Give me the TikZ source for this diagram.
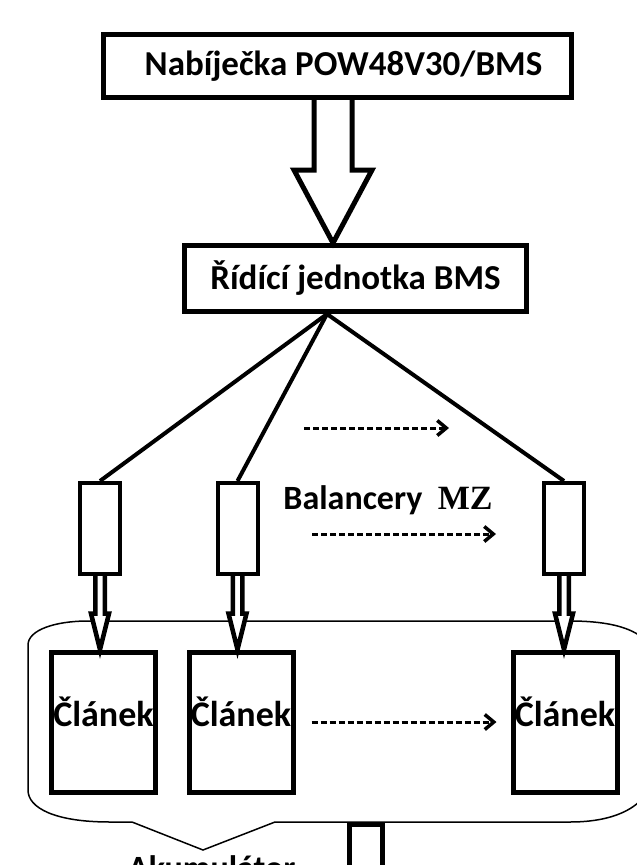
\documentclass[tikz,border=0pt]{standalone}
\usepackage{fontspec}
\setmainfont{Carlito}
\newfontfamily\mzfont{Liberation Serif}
\usetikzlibrary{calc,arrows.meta}

\begin{document}
\begin{tikzpicture}[x=1pt,y=-1pt,every text node part/.style={align=center}]
		\tikzstyle{blk}=[rectangle,draw,line width=5pt,inner sep=0pt,
                  font=\fontsize{35}{40}\selectfont\bfseries]
		\tikzstyle{bal}=[rectangle,draw,line width=4pt,minimum width=40pt,
                  minimum height=91pt,inner sep=0pt]
		\tikzstyle{cell}=[blk,minimum width=104pt,minimum height=140pt,
                  font=\fontsize{36}{40}\selectfont\bfseries,text height=19pt,text depth=10pt]
		\tikzstyle{txt}=[inner sep=0pt,font=\fontsize{34}{40}\selectfont\bfseries]
		\tikzstyle{wire}=[line width=4pt]
		\tikzstyle{hollow}=[draw,fill=white,line width=5pt,line join=miter]
		\tikzstyle{thin}=[draw,fill=white,line width=4.5pt,line join=miter]
		\tikzstyle{flow}=[line width=3pt,dash pattern=on 6pt off 3pt,
                  -{Straight Barb[length=9pt,width=15pt,line width=3.5pt]}]
		\tikzstyle{shell}=[line width=1.5pt]

    	\useasboundingbox (0,0) rectangle (637,865);
    	\fill[white] (0,0) rectangle (637,865);
    	\begin{scope}
    	\clip (0,0) rectangle (637,865);

        % battery outline
        \draw[shell] (88,621) -- (570,621) .. controls (625,621) and (655,635) .. (655,665)
            -- (655,765) .. controls (655,800) and (625,822) .. (570,822)
            -- (275,822) -- (203,850) -- (132,822) -- (110,822)
            .. controls (55,822) and (28,808) .. (28,790)
            -- (28,645) .. controls (28,630) and (55,621) .. (88,621) -- cycle;

    	\node[blk,minimum width=468pt,minimum height=63pt] (charger) at (337.5,66)
            {\hspace*{12pt}Nabíječka POW48V30/BMS};
    	\node[blk,minimum width=342pt,minimum height=66pt] (bms) at (355.5,278.5)
            {Řídící jednotka BMS};

     	\foreach \name/\x in {B1/100, B2/237.5, B3/564}
       		\node[bal] (\name) at (\x,528.5) {};

     	\foreach \name/\x in {C1/103.5, C2/241, C3/565}
       		\node[cell] (\name) at (\x,722) {Článek};

        \node[txt] (balname) at (388,500) {Balancery\ \ {\mzfont\bfseries MZ}};
        \node[txt,anchor=base west] (acc) at (128,879) {Akumulátor};

        \coordinate (apex) at ($(bms.south)+(-28.5,0)$);
        \coordinate (feed) at ($(charger.south)+(-4.5,0)$);
        \coordinate (out) at (366,824);
        \coordinate (d1a) at (304,428);
        \coordinate (d1b) at (449,428);
        \coordinate (d2a) at (312,534);
        \coordinate (d2b) at (496,534);

        % edges

        \draw[hollow] ($(feed)+(-19,0)$) -- ($(feed |- bms.north)+(-19,-73)$)
            -- ++(-20,0) -- (feed |- bms.north) -- ($(feed |- bms.north)+(39,-73)$)
            -- ++(-20,0) -- ($(feed)+(19,0)$);

        \foreach \bname in {B1, B2, B3}
            \draw[wire] (apex) -- (\bname.north);

        \foreach \bname/\cname in {B1/C1, B2/C2, B3/C3}
            \draw[thin] ($(\bname.south)+(-4.75,0)$) -- ($(\bname.south |- \cname.north)+(-4.75,-36)$)
                -- ++(-4.25,0) -- (\bname.south |- \cname.north)
                -- ($(\bname.south |- \cname.north)+(9,-36)$) -- ++(-4.25,0)
                -- ($(\bname.south)+(4.75,0)$);

        \draw[hollow,fill=none] ($(out)+(-16.5,80)$) -- ($(out)+(-16.5,0)$)
            -- ($(out)+(16.5,0)$) -- ($(out)+(16.5,80)$);

        \draw[flow] (d1a) -- (d1b);
        \draw[flow] (d2a) -- (d2b);
        \draw[flow,shorten <=16pt,shorten >=14pt] (C2.east) -- (C2.east -| C3.west);

    	\end{scope}
	\end{tikzpicture}
\end{document}
